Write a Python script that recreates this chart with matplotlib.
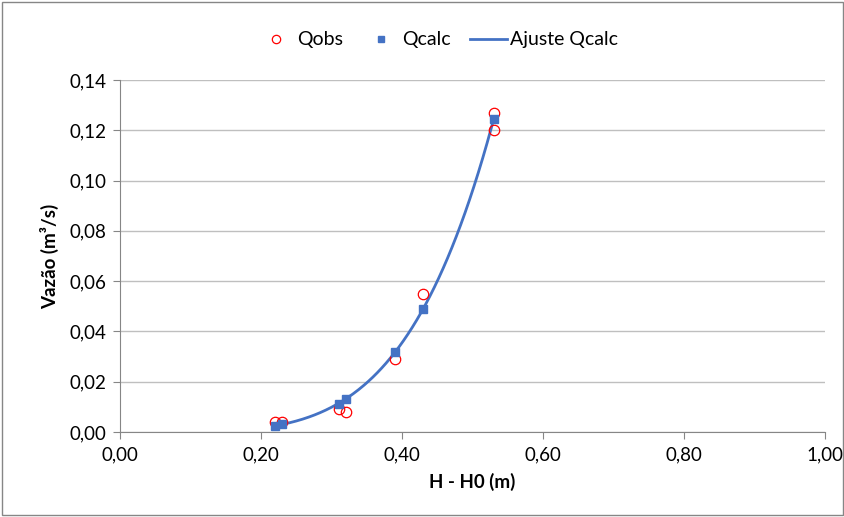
import matplotlib
matplotlib.use("Agg")
import matplotlib.pyplot as plt
import numpy as np
from matplotlib.patches import Rectangle

plt.rcParams['font.family'] = ['Lato', 'DejaVu Sans']

# DATA
h_obs = [0.22, 0.23, 0.31, 0.32, 0.39, 0.43, 0.53, 0.53]
q_obs = [0.004, 0.004, 0.009, 0.008, 0.029, 0.055, 0.127, 0.120]

h_calc = [0.22, 0.23, 0.31, 0.32, 0.39, 0.43, 0.53]
q_calc = [0.0025, 0.003, 0.0113, 0.013, 0.032, 0.049, 0.1245]

x_ticks = [0.0, 0.2, 0.4, 0.6, 0.8, 1.0]
y_ticks = [0.0, 0.02, 0.04, 0.06, 0.08, 0.10, 0.12, 0.14]

# power trendline fitted to Qcalc (as the spreadsheet does)
b, log_a = np.polyfit(np.log(h_calc), np.log(q_calc), 1)
h_fit = np.linspace(min(h_calc), max(h_calc), 200)
q_fit = np.exp(log_a) * h_fit ** b

blue = '#4472C4'
grid = '#BFBFBF'

fig = plt.figure(figsize=(8.45, 5.17), dpi=100)
ax = fig.add_axes([120/845, 1 - 432/517, 705/845, 352/517])

ax.plot(h_obs, q_obs, 'o', mfc='none', mec='#FF0000', mew=0.9, ms=7.5,
        label='Qobs', zorder=3)
ax.plot(h_calc, q_calc, 's', color=blue, ms=5.5, label='Qcalc', zorder=4)
ax.plot(h_fit, q_fit, '-', color=blue, lw=2, label='Ajuste Qcalc', zorder=2)

ax.set_xlim(0, 1.0)
ax.set_ylim(0, 0.14)
ax.set_xticks(x_ticks, labels=[f'{v:.2f}'.replace('.', ',') for v in x_ticks])
ax.set_yticks(y_ticks, labels=[f'{v:.2f}'.replace('.', ',') for v in y_ticks])
ax.tick_params(labelsize=13.5, length=5, color='#868686', direction='out', pad=5)
ax.grid(axis='y', color=grid, lw=1)
ax.set_axisbelow(True)
for s in ['top', 'right']:
    ax.spines[s].set_visible(False)
for s in ['left', 'bottom']:
    ax.spines[s].set_color('#868686')

ax.set_xlabel('H - H0 (m)', fontsize=13.5, fontweight='bold', labelpad=7)
ax.set_ylabel('Vazão (m³/s)', fontsize=13.5, fontweight='bold', labelpad=7)

fig.legend(loc='center', bbox_to_anchor=(0.518, 1 - 40/517), ncol=3, frameon=False,
           fontsize=14, handlelength=1.9, columnspacing=1.0, handletextpad=0.15,
           markerscale=0.8)

fig.patches.append(Rectangle((2/845, 2/517), 1 - 4/845, 1 - 4/517,
                             transform=fig.transFigure, fill=False,
                             ec='#868686', lw=1))

fig.savefig('out.png', dpi=100)
